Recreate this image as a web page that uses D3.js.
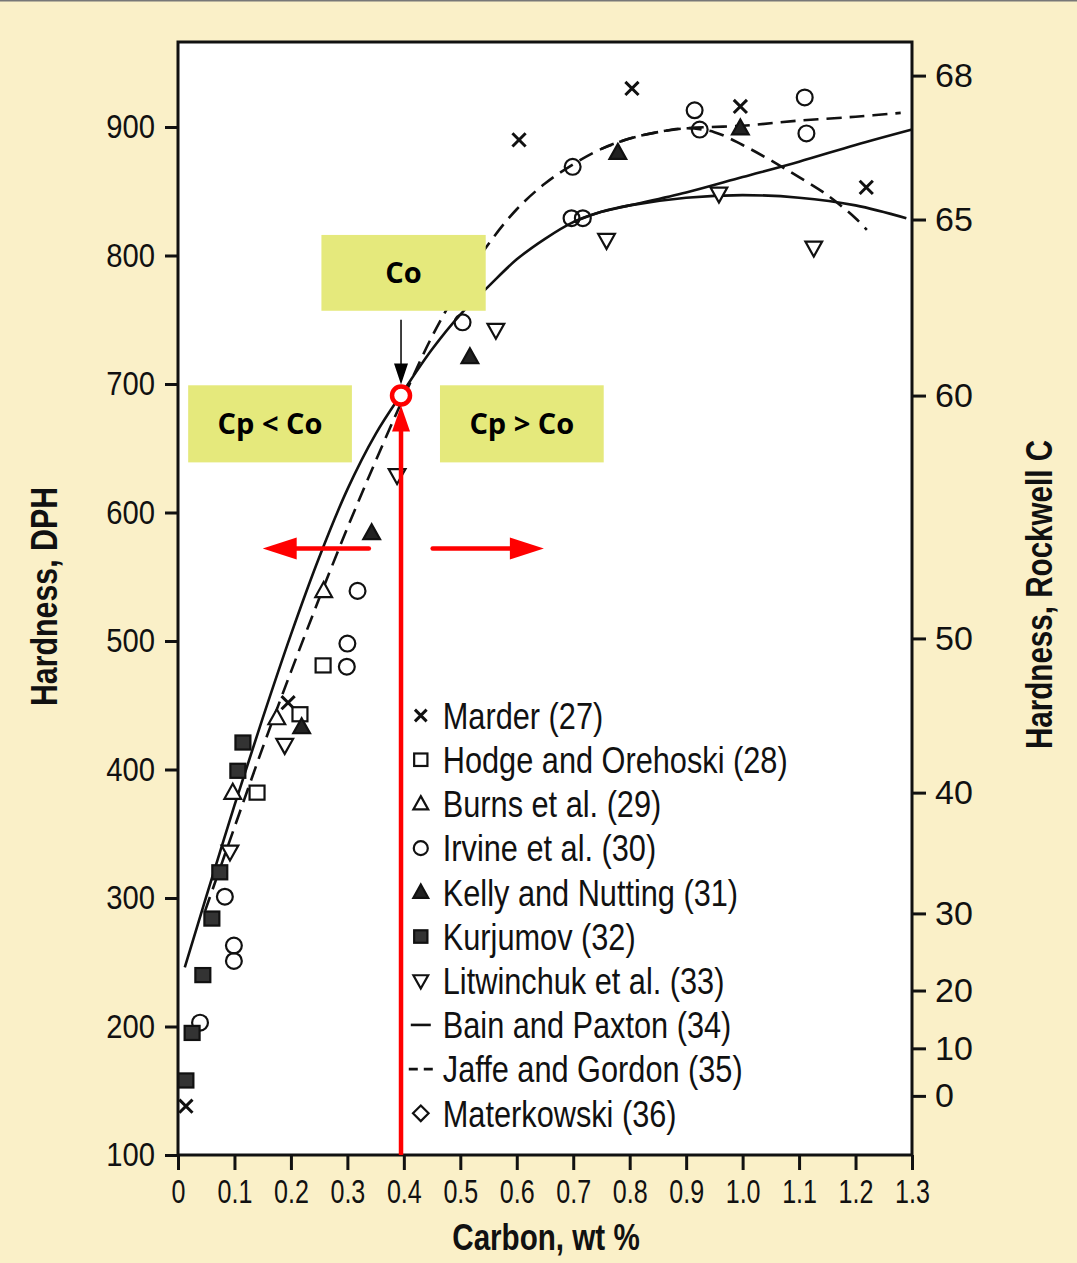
<!DOCTYPE html>
<html>
<head>
<meta charset="utf-8">
<script src="https://cdn.jsdelivr.net/npm/d3@7"></script>
<style>
  body { margin: 0; background: #faf0c8; }
  svg { display: block; }
</style>
</head>
<body>
<div id="chart"></div>
<script>
// ---- data ----
const carbonTicks = [0, 0.1, 0.2, 0.3, 0.4, 0.5, 0.6, 0.7, 0.8, 0.9, 1.0, 1.1, 1.2, 1.3];
const carbonLabels = ["0", "0.1", "0.2", "0.3", "0.4", "0.5", "0.6", "0.7", "0.8", "0.9", "1.0", "1.1", "1.2", "1.3"];
const dphTicks = [100, 200, 300, 400, 500, 600, 700, 800, 900];
const rockwellTicks = [68, 65, 60, 50, 40, 30, 20, 10, 0];
const rockwellAsDph = [940, 828, 691, 502, 382, 288, 228, 183, 146];

// [carbon wt%, hardness DPH]
const marder = [[0.014, 138], [0.195, 452], [0.604, 890], [0.804, 930], [0.996, 916], [1.219, 853]];
const hodge = [[0.140, 382], [0.216, 443], [0.257, 481]];
const burns = [[0.097, 382], [0.175, 440], [0.258, 539]];
const irvine = [[0.039, 203], [0.083, 301], [0.099, 251], [0.099, 263], [0.299, 480], [0.300, 498],
  [0.318, 539], [0.504, 748], [0.699, 869], [0.697, 829], [0.717, 829], [0.915, 913], [0.924, 898],
  [1.110, 923], [1.113, 895]];
const kelly = [[0.219, 433], [0.343, 584], [0.517, 721], [0.779, 880], [0.996, 899]];
const kurjumov = [[0.014, 158], [0.025, 195], [0.044, 240], [0.060, 284], [0.074, 320], [0.106, 399], [0.115, 421]];
const litwinchuk = [[0.092, 336], [0.189, 419], [0.388, 629], [0.563, 742], [0.759, 812], [0.958, 848], [1.126, 806]];

const bainMain = [[0.012, 246], [0.05, 301], [0.10, 372], [0.15, 440], [0.20, 505], [0.25, 565], [0.30, 618],
  [0.35, 661], [0.40, 695], [0.45, 727], [0.50, 754], [0.55, 776], [0.60, 797], [0.65, 813], [0.70, 826],
  [0.75, 834], [0.80, 839]];
const bainUpper = [[0.90, 849], [1.00, 861], [1.10, 873], [1.20, 886], [1.30, 898]];
const bainLower = [[0.90, 845], [1.00, 847], [1.10, 845], [1.20, 839], [1.29, 829]];

const jaffeMain = [[0.048, 290], [0.10, 355], [0.15, 417], [0.20, 476], [0.25, 533], [0.30, 588], [0.35, 640],
  [0.40, 690], [0.45, 737], [0.50, 776], [0.55, 809], [0.60, 836], [0.65, 856], [0.70, 871], [0.75, 883],
  [0.80, 891], [0.85, 896], [0.90, 899]];
const jaffeUpper = [[1.00, 901], [1.10, 905], [1.20, 908], [1.28, 911]];
const jaffeLower = [[0.95, 896], [1.00, 886], [1.05, 874], [1.10, 861], [1.15, 847], [1.20, 829], [1.22, 820]];

const legendNames = ["Marder (27)", "Hodge and Orehoski (28)", "Burns et al. (29)", "Irvine et al. (30)",
  "Kelly and Nutting (31)", "Kurjumov (32)", "Litwinchuk et al. (33)", "Bain and Paxton (34)",
  "Jaffe and Gordon (35)", "Materkowski (36)"];
const legendKinds = ["x", "square", "triangle", "circle", "triangleFilled", "squareFilled", "triangleDown", "solid", "dashed", "diamond"];

// annotation (carbon, DPH)
const coPoint = [0.395, 691];
const boxes = [
  { label: "Co", c0: 0.254, c1: 0.545, h0: 757, h1: 816 },
  { label: "Cp < Co", c0: 0.018, c1: 0.308, h0: 639, h1: 699 },
  { label: "Cp > Co", c0: 0.464, c1: 0.754, h0: 639, h1: 699 }
];
const arrowLevel = 572;
const leftArrow = [0.338, 0.150];
const rightArrow = [0.451, 0.648];

// ---- layout ----
const W = 1077, H = 1263;
const margin = { top: 42, right: 165, bottom: 108, left: 178 };
const width = W - margin.left - margin.right;
const height = H - margin.top - margin.bottom;

const helv = "'Liberation Sans', Arial, Helvetica, sans-serif";

const svg = d3.select("#chart").append("svg").attr("width", W).attr("height", H);
svg.append("rect").attr("width", W).attr("height", H).attr("fill", "#faf0c8");
svg.append("line").attr("x1", 0).attr("x2", W).attr("y1", 0.5).attr("y2", 0.5).attr("stroke", "#777").attr("stroke-width", 2);

const g = svg.append("g").attr("transform", `translate(${margin.left},${margin.top})`);

const x = d3.scaleLinear().domain([0, 1.3]).range([0, width]);
const y = d3.scaleLinear().domain([100, 100 + height / 1.285]).range([height, 0]);

// squeeze text horizontally (no narrow font installed)
function squeeze(sel, sx) {
  sel.each(function () {
    const t = d3.select(this);
    const tx = +t.attr("x") || 0, ty = +t.attr("y") || 0;
    t.attr("x", 0).attr("y", 0).attr("transform", `translate(${tx},${ty}) scale(${sx},1)`);
  });
}

g.append("rect").attr("width", width).attr("height", height).attr("fill", "#fff");

// axes
const xAxis = g.append("g").attr("transform", `translate(0,${height})`)
  .call(d3.axisBottom(x).tickValues(carbonTicks).tickFormat((d, i) => carbonLabels[i]).tickSize(15).tickPadding(9));
const yAxis = g.append("g")
  .call(d3.axisLeft(y).tickValues(dphTicks).tickSize(13).tickPadding(10));
const rAxis = g.append("g").attr("transform", `translate(${width},0)`)
  .call(d3.axisRight(y).tickValues(rockwellAsDph).tickFormat((d, i) => rockwellTicks[i]).tickSize(14).tickPadding(9));

[xAxis, yAxis, rAxis].forEach(a => {
  a.select(".domain").remove();
  a.selectAll(".tick line").attr("stroke", "#111").attr("stroke-width", 3);
  a.selectAll(".tick text").attr("fill", "#111").attr("font-family", helv).attr("font-size", 34);
});
xAxis.selectAll(".tick text").attr("font-size", 33).attr("dy", "0.72em");
squeeze(xAxis.selectAll(".tick text"), 0.76);
squeeze(yAxis.selectAll(".tick text"), 0.86);
rAxis.selectAll(".tick text").attr("font-size", 34);

// frame
g.append("rect").attr("width", width).attr("height", height)
  .attr("fill", "none").attr("stroke", "#111").attr("stroke-width", 3);

// axis titles
const titles = g.append("g").attr("font-family", helv).attr("font-weight", "bold").attr("font-size", 37)
  .attr("fill", "#111").attr("text-anchor", "middle");
titles.append("text").attr("transform", `translate(${width / 2 + 1},${height + 95}) scale(0.8,1)`)
  .text("Carbon, wt %");
titles.append("text").attr("transform", `translate(${-121},${height / 2 - 2}) rotate(-90) scale(0.82,1)`)
  .text("Hardness, DPH");
titles.append("text").attr("transform", `translate(${width + 140},${height / 2 - 4}) rotate(-90) scale(0.8,1)`)
  .text("Hardness, Rockwell C");

// curves
const line = d3.line().x(d => x(d[0])).y(d => y(d[1])).curve(d3.curveCatmullRom);
const curves = g.append("g").attr("fill", "none").attr("stroke", "#111").attr("stroke-width", 2.6);
curves.append("path").attr("d", line(bainMain.concat(bainUpper)));
curves.append("path").attr("d", line(bainMain.slice(-3).concat(bainLower)));
curves.append("path").attr("d", line(jaffeMain.concat(jaffeUpper))).attr("stroke-dasharray", "15,8");
curves.append("path").attr("d", line(jaffeMain.slice(-4).concat(jaffeLower))).attr("stroke-dasharray", "15,8")
  .attr("stroke-dashoffset", 4);

// markers
function marker(sel, kind, s) {
  const tri = `M0,${-s}L${s * 0.95},${s * 0.7}L${-s * 0.95},${s * 0.7}Z`;
  const triDown = `M0,${s}L${s * 0.95},${-s * 0.7}L${-s * 0.95},${-s * 0.7}Z`;
  const k = s * 0.75;
  if (kind === "x") {
    sel.append("path").attr("d", `M${-k},${-k}L${k},${k}M${-k},${k}L${k},${-k}`)
      .attr("stroke", "#111").attr("stroke-width", 3).attr("fill", "none");
  } else if (kind === "square" || kind === "squareFilled") {
    sel.append("rect").attr("x", -s * 0.85).attr("y", -s * 0.8).attr("width", s * 1.7).attr("height", s * 1.6)
      .attr("fill", kind === "square" ? "#fff" : "#333").attr("stroke", "#111").attr("stroke-width", 2.2);
  } else if (kind === "triangle" || kind === "triangleFilled") {
    sel.append("path").attr("d", tri)
      .attr("fill", kind === "triangle" ? "#fff" : "#222").attr("stroke", "#111").attr("stroke-width", 2.2);
  } else if (kind === "triangleDown") {
    sel.append("path").attr("d", triDown).attr("fill", "#fff").attr("stroke", "#111").attr("stroke-width", 2.2);
  } else if (kind === "circle") {
    sel.append("circle").attr("r", s * 0.9).attr("fill", "none").attr("stroke", "#111").attr("stroke-width", 2.2);
  } else if (kind === "diamond") {
    sel.append("path").attr("d", `M0,${-s}L${s},0L0,${s}L${-s},0Z`)
      .attr("fill", "#fff").attr("stroke", "#111").attr("stroke-width", 2.2);
  } else if (kind === "solid") {
    sel.append("line").attr("x1", -10).attr("x2", 10).attr("stroke", "#111").attr("stroke-width", 2.6);
  } else if (kind === "dashed") {
    sel.append("line").attr("x1", -12).attr("x2", 12).attr("stroke", "#111").attr("stroke-width", 2.6)
      .attr("stroke-dasharray", "9,6");
  }
}

const seriesList = [
  [marder, "x"], [hodge, "square"], [burns, "triangle"], [irvine, "circle"],
  [kelly, "triangleFilled"], [kurjumov, "squareFilled"], [litwinchuk, "triangleDown"]
];
seriesList.forEach(([data, kind]) => {
  g.append("g").selectAll("g").data(data).join("g")
    .attr("transform", d => `translate(${x(d[0])},${y(d[1])})`)
    .each(function () { marker(d3.select(this), kind, 8.8); });
});

// legend
const legend = g.append("g").attr("transform", `translate(${x(0.430)},${y(442)})`);
legendNames.forEach((name, i) => {
  const row = legend.append("g").attr("transform", `translate(0,${i * 44.2})`);
  marker(row, legendKinds[i], 7.8);
  row.append("text").attr("x", 22).attr("dy", "0.36em")
    .attr("font-family", helv).attr("font-size", 37).attr("fill", "#111").text(name)
    .call(squeeze, 0.83);
});

// annotations
const ann = g.append("g");
boxes.forEach(b => {
  ann.append("rect").attr("x", x(b.c0)).attr("y", y(b.h1))
    .attr("width", x(b.c1) - x(b.c0)).attr("height", y(b.h0) - y(b.h1)).attr("fill", "#e5e97c");
  ann.append("text").attr("x", (x(b.c0) + x(b.c1)) / 2).attr("y", (y(b.h0) + y(b.h1)) / 2)
    .attr("dy", "0.36em").attr("text-anchor", "middle")
    .attr("font-family", "'Open Sans', 'Noto Sans', sans-serif").attr("font-weight", "bold")
    .attr("font-size", 29).attr("fill", "#000").text(b.label);
});

const cx = x(coPoint[0]), cy = y(coPoint[1]);
// black arrow down to Co
ann.append("line").attr("x1", cx).attr("x2", cx).attr("y1", y(750)).attr("y2", cy - 30)
  .attr("stroke", "#000").attr("stroke-width", 1.5);
ann.append("path").attr("d", `M${cx - 7},${cy - 32}L${cx + 7},${cy - 32}L${cx},${cy - 11}Z`).attr("fill", "#000");

// red vertical line with arrowhead
ann.append("line").attr("x1", cx).attr("x2", cx).attr("y1", y(100)).attr("y2", cy + 30)
  .attr("stroke", "#f00").attr("stroke-width", 4.5);
ann.append("path").attr("d", `M${cx - 9},${cy + 36}L${cx + 9},${cy + 36}L${cx},${cy + 10}Z`).attr("fill", "#f00");
ann.append("circle").attr("cx", cx).attr("cy", cy).attr("r", 9)
  .attr("fill", "#fff").attr("stroke", "#f00").attr("stroke-width", 4.5);

// red horizontal arrows
const ay = y(arrowLevel);
[leftArrow, rightArrow].forEach(([c0, c1]) => {
  const x0 = x(c0), x1 = x(c1), dir = Math.sign(x1 - x0);
  ann.append("line").attr("x1", x0).attr("x2", x1 - dir * 30).attr("y1", ay).attr("y2", ay)
    .attr("stroke", "#f00").attr("stroke-width", 4.5).attr("stroke-linecap", "round");
  ann.append("path").attr("d", `M${x1},${ay}L${x1 - dir * 34},${ay - 11}L${x1 - dir * 34},${ay + 11}Z`).attr("fill", "#f00");
});
</script>
</body>
</html>
